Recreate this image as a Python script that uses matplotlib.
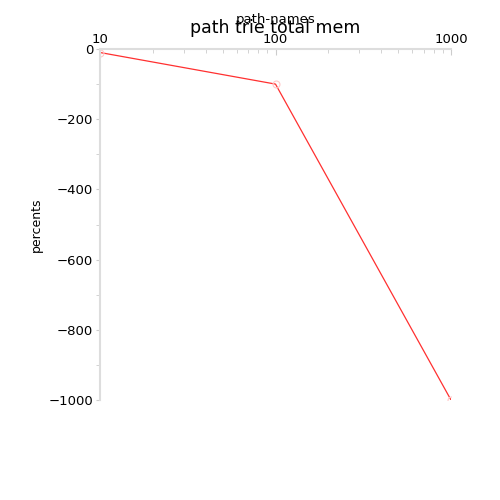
import matplotlib
matplotlib.use("Agg")
import matplotlib.pyplot as plt

# path trie memory vs number of path names
path_names = [10, 100, 1000]
percents = [-10, -100, -1000]

plt.rcParams['font.family'] = ['DejaVu Sans']

fig = plt.figure(figsize=(5, 5), dpi=100)
ax = fig.add_axes([0.2, 0.2, 0.702, 0.702])

ax.plot(path_names, percents, color='#ff3030', linewidth=0.9,
        marker='o', markersize=5, markerfacecolor='none',
        markeredgecolor='#ffc8c8', markeredgewidth=0.8)

ax.set_xscale('log')
ax.set_xlim(10, 1000)
ax.set_ylim(-1000, 0)
ax.xaxis.tick_top()
ax.xaxis.set_label_position('top')
ax.set_xticks([10, 100, 1000])
ax.set_xticklabels(['10', '100', '1000'])
ax.set_yticks([0, -200, -400, -600, -800, -1000])
ax.set_yticks([-100, -300, -500, -700, -900], minor=True)

for s in ['right', 'bottom']:
    ax.spines[s].set_visible(False)
for s in ['top', 'left']:
    ax.spines[s].set_color('#dddddd')
    ax.spines[s].set_linewidth(1.5)

ax.tick_params(axis='x', which='both', direction='in', colors='#cccccc',
               labelcolor='black', labelsize=9.5, pad=2)
ax.tick_params(axis='x', which='major', length=4)
ax.tick_params(axis='x', which='minor', length=3)
ax.tick_params(axis='y', which='both', direction='out', colors='#cccccc',
               labelcolor='black', labelsize=9.5, length=3, pad=2)

xl = ax.set_xlabel('path-names', fontsize=9.5)
ax.xaxis.set_label_coords(0.5, 1.083)
xl.set_va('center')
yl = ax.set_ylabel('percents', fontsize=9)
ax.yaxis.set_label_coords(-0.182, 0.5)
yl.set_va('center')
ax.text(0.5, 1.06, 'path trie total mem', transform=ax.transAxes,
        ha='center', va='center', fontsize=12.5)

fig.savefig('out.png', dpi=100)
